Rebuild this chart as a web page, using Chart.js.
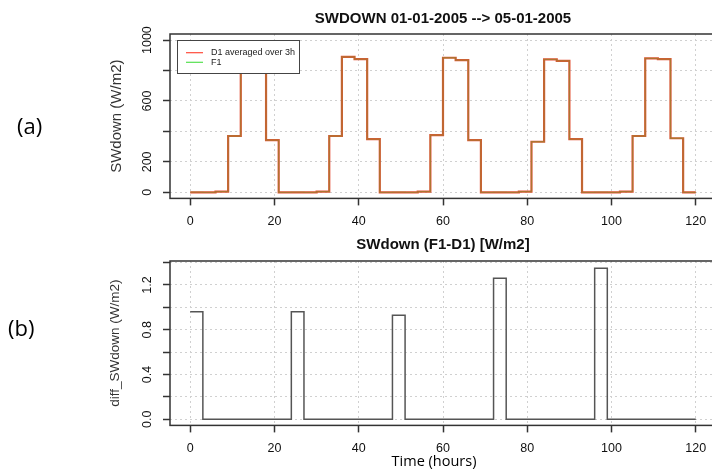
<!DOCTYPE html>
<html>
<head>
<meta charset="utf-8">
<script src="https://cdn.jsdelivr.net/npm/chart.js@4.4.1/dist/chart.umd.min.js"></script>
<style>
  body { margin: 0; background: #fff; overflow: hidden; width: 712px; height: 470px; position: relative; }
  canvas { position: absolute; left: 0; }
  #chartTop { top: 0; }
  #chartBottom { top: 232px; }
  .lbl { position: absolute; font-family: "Open Sans", sans-serif; color: #000; white-space: nowrap; line-height: 1; }
</style>
</head>
<body>
<canvas id="chartTop" width="740" height="232"></canvas>
<canvas id="chartBottom" width="740" height="238"></canvas>
<div class="lbl" style="left:17px; top:114px; font-size:22px;">(a)</div>
<div class="lbl" style="left:8px; top:316px; font-size:22px;">(b)</div>
<div class="lbl" style="left:434px; top:454px; font-size:14.5px; transform:translateX(-50%);">Time (hours)</div>
<script>
// Pas de temps (heures, moyennes sur 3h)
var hours = [0, 3, 6, 9, 12, 15, 18, 21, 24, 27, 30, 33, 36, 39, 42, 45, 48, 51, 54, 57, 60,
             63, 66, 69, 72, 75, 78, 81, 84, 87, 90, 93, 96, 99, 102, 105, 108, 111, 114, 117, 120];

// SWdown D1 moyenne sur 3h (W/m2)
var d1Values = [0, 0, 5, 370, 880, 865, 343, 0,
                0, 0, 5, 370, 890, 875, 350, 0,
                0, 0, 5, 376, 884, 869, 343, 0,
                0, 0, 4, 332, 873, 864, 350, 0,
                0, 0, 5, 370, 880, 875, 355, 0,
                0];

// SWdown F1 (W/m2)
var f1Values = [0.96, 0, 5, 370, 880, 865, 343, 0,
                0.96, 0, 5, 370, 890, 875, 350, 0,
                0.93, 0, 5, 376, 884, 869, 343, 0,
                1.26, 0, 4, 332, 873, 864, 350, 0,
                1.35, 0, 5, 370, 880, 875, 355, 0,
                0];

// Difference F1-D1 (W/m2)
var diffValues = [0.96, 0, 0, 0, 0, 0, 0, 0,
                  0.96, 0, 0, 0, 0, 0, 0, 0,
                  0.93, 0, 0, 0, 0, 0, 0, 0,
                  1.26, 0, 0, 0, 0, 0, 0, 0,
                  1.35, 0, 0, 0, 0, 0, 0, 0,
                  0];

var xTicks = [0, 20, 40, 60, 80, 100, 120];
var xTickLabels = ['0', '20', '40', '60', '80', '100', '120'];
var yTicksTop = [0, 200, 400, 600, 800, 1000];
var yTickLabelsTop = ['0', '200', '', '600', '', '1000'];
var yTicksBottom = [0, 0.2, 0.4, 0.6, 0.8, 1.0, 1.2, 1.4];
var yTickLabelsBottom = ['0.0', '', '0.4', '', '0.8', '', '1.2', ''];

var legendLabels = ['D1 averaged over 3h', 'F1'];
var legendColors = ['#ff4a3a', '#55e050'];

function toPoints(values) {
    return hours.map(function(h, i) { return { x: h, y: values[i] }; });
}

var FONT = 'Liberation Sans';

// Cadre + legende dessines par dessus les courbes
var cadrePlugin = {
    id: 'cadre',
    afterDatasetsDraw: function(chart, args, opts) {
        var a = chart.chartArea, ctx = chart.ctx;
        ctx.save();
        ctx.strokeStyle = '#333';
        ctx.lineWidth = 1.5;
        ctx.strokeRect(a.left, a.top, a.right - a.left, a.bottom - a.top);
        if (opts.legend) {
            var lg = opts.legend;
            var x = a.left + lg.dx, y = a.top + lg.dy;
            ctx.fillStyle = '#fff';
            ctx.fillRect(x, y, lg.w, lg.h);
            ctx.strokeStyle = '#444';
            ctx.lineWidth = 1;
            ctx.strokeRect(x + 0.5, y + 0.5, lg.w, lg.h);
            ctx.font = '9px "' + FONT + '"';
            ctx.textBaseline = 'middle';
            lg.labels.forEach(function(label, i) {
                var yy = y + lg.row0 + i * lg.rowGap;
                ctx.strokeStyle = lg.colors[i];
                ctx.lineWidth = 1.2;
                ctx.beginPath();
                ctx.moveTo(x + 9, yy);
                ctx.lineTo(x + 26, yy);
                ctx.stroke();
                ctx.fillStyle = '#222';
                ctx.fillText(label, x + 34, yy);
            });
        }
        ctx.restore();
    }
};

function gridOpts() {
    return {
        color: '#d0d0d0',
        lineWidth: 1,
        tickColor: '#333',
        tickLength: 7,
        tickWidth: 1.5,
        tickBorderDash: []
    };
}

function xScale(height) {
    return {
        type: 'linear',
        min: -4.8,
        max: 124.8,
        afterBuildTicks: function(s) { s.ticks = xTicks.map(function(v) { return { value: v }; }); },
        afterFit: function(s) { s.height = height; },
        grid: gridOpts(),
        border: { display: false, dash: [2, 3] },
        ticks: {
            autoSkip: false, maxRotation: 0, padding: 9, color: '#111',
            font: { family: FONT, size: 12.5 },
            callback: function(v, i) { return xTickLabels[i]; }
        }
    };
}

function yScale(min, max, ticks, labels, title, titleSize, titlePad, tickPad) {
    return {
        min: min,
        max: max,
        afterBuildTicks: function(s) { s.ticks = ticks.map(function(v) { return { value: v }; }); },
        afterFit: function(s) { s.width = 170; },
        grid: gridOpts(),
        border: { display: false, dash: [2, 3] },
        ticks: {
            autoSkip: false, minRotation: 90, maxRotation: 90, crossAlign: 'center',
            padding: tickPad, color: '#111',
            font: { family: FONT, size: 12.5 },
            callback: function(v, i) { return labels[i]; }
        },
        title: {
            display: true, text: title, color: '#333',
            font: { family: FONT, size: titleSize },
            padding: { top: titlePad, bottom: 0 }
        }
    };
}

// Graphique (a) : SWDOWN D1 et F1
new Chart(document.getElementById('chartTop'), {
    type: 'line',
    data: {
        datasets: [{
            label: legendLabels[0],
            data: toPoints(d1Values),
            borderColor: 'rgb(230,80,55)',
            borderWidth: 2.2,
            stepped: true,
            pointRadius: 0,
            order: 2
        }, {
            label: legendLabels[1],
            data: toPoints(f1Values),
            borderColor: 'rgba(90,170,40,0.4)',
            borderWidth: 1.3,
            stepped: true,
            pointRadius: 0,
            order: 1
        }]
    },
    options: {
        responsive: false,
        animation: false,
        devicePixelRatio: 1,
        layout: { padding: { left: 0, right: 24, top: 0, bottom: 4 } },
        scales: {
            x: xScale(29.6),
            y: yScale(-40, 1040, yTicksTop, yTickLabelsTop, 'SWdown (W/m2)', 15, 107.7, 2)
        },
        plugins: {
            legend: { display: false },
            tooltip: { enabled: false },
            title: {
                display: true, fullSize: false,
                text: 'SWDOWN 01-01-2005 --> 05-01-2005',
                color: '#111',
                font: { family: FONT, size: 15, weight: 'bold' },
                padding: { top: 10, bottom: 6 }
            },
            cadre: {
                legend: { dx: 7, dy: 6, w: 122, h: 33, row0: 12.7, rowGap: 9.6, labels: legendLabels, colors: legendColors }
            }
        }
    },
    plugins: [cadrePlugin]
});

// Graphique (b) : difference F1-D1
new Chart(document.getElementById('chartBottom'), {
    type: 'line',
    data: {
        datasets: [{
            label: 'F1-D1',
            data: toPoints(diffValues),
            borderColor: '#555',
            borderWidth: 1.5,
            stepped: true,
            pointRadius: 0
        }]
    },
    options: {
        responsive: false,
        animation: false,
        devicePixelRatio: 1,
        layout: { padding: { left: 0, right: 24, top: 0, bottom: 4.6 } },
        scales: {
            x: xScale(40),
            y: yScale(-0.054, 1.414, yTicksBottom, yTickLabelsBottom, 'diff_SWdown (W/m2)', 13.5, 106.9, 6.6)
        },
        plugins: {
            legend: { display: false },
            tooltip: { enabled: false },
            title: {
                display: true, fullSize: false,
                text: 'SWdown (F1-D1) [W/m2]',
                color: '#111',
                font: { family: FONT, size: 15, weight: 'bold' },
                padding: { top: 4, bottom: 7 }
            },
            cadre: {}
        }
    },
    plugins: [cadrePlugin]
});
</script>
</body>
</html>
